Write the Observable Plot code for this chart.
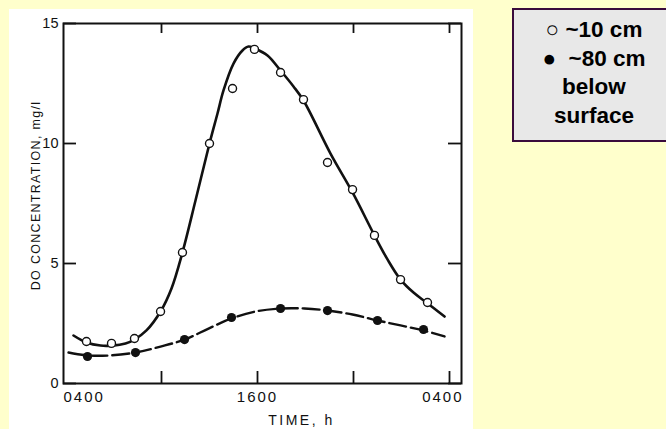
<!DOCTYPE html>
<html>
<head>
<meta charset="utf-8">
<script src="https://cdn.jsdelivr.net/npm/d3@7"></script>
<script src="https://cdn.jsdelivr.net/npm/@observablehq/plot@0.6"></script>
<style>
  html, body { margin: 0; padding: 0; background: #ffffcc; }
  #wrap { position: relative; width: 666px; height: 429px; overflow: hidden; background: #ffffcc; }
  #panel { position: absolute; left: 9px; top: 9px; width: 464px; height: 420px; background: #ffffff; }
  #chart { position: absolute; left: 0; top: 0; }
  #legend { position: absolute; left: 512px; top: 8px; width: 160px; height: 124px; border: 2px solid #3a0b3c;
            background: #e8e8e8; font-family: "Liberation Sans", Arial, sans-serif; font-weight: bold;
            font-size: 22.5px; line-height: 28.6px; text-align: center; color: #000; padding-top: 6px; box-sizing: content-box; white-space: pre; }
</style>
</head>
<body>
<div id="wrap">
  <div id="panel"></div>
  <div id="chart"></div>
  <div id="legend"></div>
</div>
<script>
// ---- data (hours since midnight, 24+ = next day; DO in mg/l) ----
const openHours   = [5.31, 6.875, 8.31, 9.94, 11.31, 13.0, 14.44, 15.81, 17.44, 18.875, 20.375, 21.94, 23.31, 24.94, 26.625];
const openDO      = [1.75, 1.67, 1.875, 3.0, 5.46, 10.0, 12.29, 13.92, 12.96, 11.83, 9.21, 8.08, 6.17, 4.33, 3.375];
const filledHours = [5.375, 8.375, 11.44, 14.375, 17.44, 20.375, 23.5, 26.375];
const filledDO    = [1.125, 1.29, 1.83, 2.75, 3.125, 3.04, 2.625, 2.25];

// fitted curves as drawn
const openCurveHours = [4.5, 5.31, 6.19, 6.94, 7.75, 8.31, 9.06, 9.94, 10.625, 11.31, 12.125, 13.0, 13.5, 13.875, 14.5, 15.06, 15.44, 15.81, 16.625, 17.44, 18.25, 18.875, 20.5625, 21.94, 23.31, 24.125, 24.94, 25.75, 26.56, 27.69];
const openCurveDO    = [2.0, 1.71, 1.58, 1.58, 1.67, 1.83, 2.21, 3.0, 3.96, 5.46, 7.625, 10.0, 11.25, 12.21, 13.33, 13.875, 14.04, 13.96, 13.67, 13.04, 12.375, 11.79, 9.58, 7.96, 6.17, 5.17, 4.33, 3.79, 3.375, 2.79];
const filledCurveHours = [4.19, 5.375, 6.81, 8.375, 9.94, 11.44, 12.94, 14.375, 15.875, 17.44, 18.94, 20.375, 21.94, 23.5, 24.94, 26.375, 27.69];
const filledCurveDO    = [1.29, 1.17, 1.17, 1.29, 1.54, 1.83, 2.29, 2.71, 3.0, 3.125, 3.125, 3.04, 2.875, 2.625, 2.42, 2.21, 1.96];

const xDomain = [3.875, 28.75];
const yDomain = [0, 15];
const xTickHours = [10, 16, 22, 28];
const yTickValues = [0, 5, 10, 15];
const xLabelPos = [3.875, 16, 28.75];
const xLabelText = ["0400", "1600", "0400"];
const yAxisTitle = "DO CONCENTRATION, mg/l";
const xAxisTitle = "TIME, h";
const legendLines = ["\u25CB ~10 cm", "\u25CF  ~80 cm", "below", "surface"];

// ---- build ----
const openPts = openHours.map((h, i) => ({h, v: openDO[i]}));
const filledPts = filledHours.map((h, i) => ({h, v: filledDO[i]}));
const openCurve = openCurveHours.map((h, i) => ({h, v: openCurveDO[i]}));
const filledCurve = filledCurveHours.map((h, i) => ({h, v: filledCurveDO[i]}));

const ink = "#111";
const font = "'Liberation Sans', Arial, sans-serif";
const anchors = ["start", "middle", "end"];

const chart = Plot.plot({
  width: 666,
  height: 429,
  marginLeft: 63,
  marginRight: 205,
  marginTop: 23,
  marginBottom: 46,
  x: {domain: xDomain, axis: null},
  y: {domain: yDomain, axis: null},
  style: {background: "transparent", fontFamily: font, color: ink},
  marks: [
    // inward ticks
    Plot.tickX(xTickHours, {x: d => d, stroke: ink, strokeWidth: 1.8, insetTop: 348}),
    Plot.tickX(xTickHours, {x: d => d, stroke: ink, strokeWidth: 1.8, insetBottom: 350}),
    Plot.tickY(yTickValues, {y: d => d, stroke: ink, strokeWidth: 1.8, insetRight: 385}),
    Plot.tickY(yTickValues, {y: d => d, stroke: ink, strokeWidth: 1.8, insetLeft: 385}),
    Plot.frame({stroke: ink, strokeWidth: 2}),
    // y tick labels
    Plot.text(yTickValues, {y: d => d, text: d => String(d), frameAnchor: "left", dx: -5, textAnchor: "end", lineAnchor: "middle", fontSize: 14.5, fill: ink}),
    // x tick labels
    ...xLabelText.map((t, i) => Plot.text([t], {x: [xLabelPos[i]], text: d => d, frameAnchor: "bottom", dy: 14, dx: i === 2 ? 2 : 0, textAnchor: anchors[i], lineAnchor: "middle", fontSize: 15, fill: ink, ariaDescription: "xticklabel"})),
    // axis titles
    Plot.text([yAxisTitle], {text: d => d, frameAnchor: "left", dx: -28, dy: -8, rotate: -90, textAnchor: "middle", lineAnchor: "middle", fontSize: 12.5, fill: ink, ariaDescription: "ytitle"}),
    Plot.text([xAxisTitle], {text: d => d, frameAnchor: "bottom", dx: 39, dy: 37, textAnchor: "middle", lineAnchor: "middle", fontSize: 14, fill: ink, ariaDescription: "xtitle"}),
    // curves
    Plot.line(openCurve, {x: "h", y: "v", curve: "catmull-rom", stroke: ink, strokeWidth: 2.6}),
    Plot.line(filledCurve, {x: "h", y: "v", curve: "catmull-rom", stroke: ink, strokeWidth: 2.4, strokeDasharray: "17,5"}),
    // points
    Plot.dot(openPts, {x: "h", y: "v", r: 4, fill: "white", stroke: ink, strokeWidth: 1.4}),
    Plot.dot(filledPts, {x: "h", y: "v", r: 4.6, fill: ink, stroke: "none"})
  ]
});
chart.querySelectorAll('[aria-description="xticklabel"] text').forEach(e => e.setAttribute("letter-spacing", "2"));
chart.querySelectorAll('[aria-description="ytitle"] text').forEach(e => e.setAttribute("letter-spacing", "1.3"));
chart.querySelectorAll('[aria-description="xtitle"] text').forEach(e => e.setAttribute("letter-spacing", "2.5"));
document.getElementById("chart").appendChild(chart);
document.getElementById("legend").textContent = legendLines.join("\n");
</script>
</body>
</html>
